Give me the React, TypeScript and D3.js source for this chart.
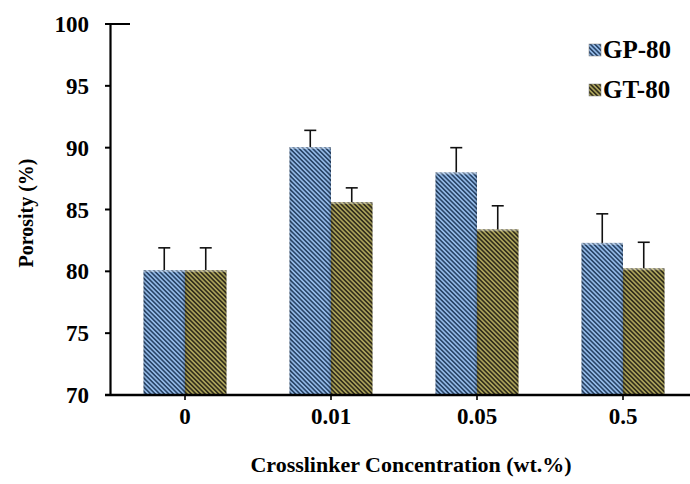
import React from "react";
import * as d3 from "d3";

const categories = ["0", "0.01", "0.05", "0.5"];
const seriesNames = ["GP-80", "GT-80"];
const gpValues = [80.1, 90.05, 88.0, 82.3];
const gtValues = [80.1, 85.6, 83.4, 80.25];
const gpErrors = [1.8, 1.35, 2.0, 2.35];
const gtErrors = [1.8, 1.15, 1.9, 2.1];
const yTicks = [70, 75, 80, 85, 90, 95, 100];

const W = 690;
const H = 484;
const FONT = "'Liberation Serif', 'Times New Roman', serif";

const fills = [
  { id: "hatch-gp", light: "#93b9e6", dark: "#2a4669" },
  { id: "hatch-gt", light: "#aaa25a", dark: "#332e1c" },
];

export default function App() {
  const y = d3.scaleLinear().domain([70, 100]).range([395, 24]);
  const x = d3.scaleBand().domain(categories).range([112, 696]);
  const inner = d3
    .scaleBand()
    .domain(seriesNames)
    .range([0, x.bandwidth()])
    .paddingInner(0)
    .paddingOuter(0.76);

  const series = [
    { name: seriesNames[0], values: gpValues, errors: gpErrors, fill: fills[0] },
    { name: seriesNames[1], values: gtValues, errors: gtErrors, fill: fills[1] },
  ];

  const axisY0 = y(70);

  return (
    <svg width={W} height={H} style={{ display: "block", position: "absolute", left: 0, top: 0 }}>
      <defs>
        {fills.map((f) => (
          <pattern
            key={f.id}
            id={f.id}
            patternUnits="userSpaceOnUse"
            width={3.2}
            height={3.2}
            patternTransform="rotate(-45)"
          >
            <rect width={3.2} height={3.2} fill={f.light} />
            <rect width={1.6} height={3.2} fill={f.dark} />
          </pattern>
        ))}
        <linearGradient id="edge-shade" x1="0" x2="1" y1="0" y2="0">
          <stop offset="0" stopColor="#000" stopOpacity={0.2} />
          <stop offset="0.07" stopColor="#000" stopOpacity={0} />
          <stop offset="0.93" stopColor="#000" stopOpacity={0} />
          <stop offset="1" stopColor="#000" stopOpacity={0.2} />
        </linearGradient>
      </defs>
      <rect width={W} height={H} fill="#fff" />

      {/* bars */}
      {series.map((s) =>
        categories.map((c, i) => {
          const bx = (x(c) as number) + (inner(s.name) as number);
          const bw = inner.bandwidth();
          const top = y(s.values[i]);
          return (
            <g key={s.name + c}>
              <rect x={bx} y={top} width={bw} height={axisY0 - top} fill={`url(#${s.fill.id})`} />
              <rect x={bx} y={top} width={bw} height={axisY0 - top} fill="url(#edge-shade)" />
              <rect x={bx} y={top} width={bw} height={2} fill="#fff" opacity={0.35} />
            </g>
          );
        })
      )}

      {/* error bars (upper only) */}
      {series.map((s) =>
        categories.map((c, i) => {
          const cx = (x(c) as number) + (inner(s.name) as number) + inner.bandwidth() / 2;
          const top = y(s.values[i]);
          const et = y(s.values[i] + s.errors[i]);
          return (
            <g key={"e" + s.name + c} stroke="#111" strokeWidth={1.6}>
              <line x1={cx} x2={cx} y1={top} y2={et} />
              <line x1={cx - 6} x2={cx + 6} y1={et} y2={et} />
            </g>
          );
        })
      )}

      {/* y axis */}
      <line x1={110.5} x2={110.5} y1={y(100)} y2={axisY0 + 1} stroke="#000" strokeWidth={2.2} />
      <line x1={105} x2={130} y1={y(100)} y2={y(100)} stroke="#000" strokeWidth={2} />
      {yTicks.map((t) => (
        <g key={t}>
          <line x1={105} x2={110} y1={y(t)} y2={y(t)} stroke="#000" strokeWidth={2} />
          <text
            x={89}
            y={y(t)}
            dy="0.35em"
            textAnchor="end"
            fontFamily={FONT}
            fontWeight="bold"
            fontSize={23}
            fill="#000"
          >
            {t}
          </text>
        </g>
      ))}

      {/* x axis */}
      <line x1={105} x2={690} y1={axisY0} y2={axisY0} stroke="#000" strokeWidth={2.4} />
      {categories.map((c) => {
        const cx = (x(c) as number) + x.bandwidth() / 2;
        return (
          <g key={c}>
            <line x1={cx} x2={cx} y1={axisY0} y2={axisY0 + 5} stroke="#000" strokeWidth={1.6} />
            <text
              x={cx}
              y={424}
              textAnchor="middle"
              fontFamily={FONT}
              fontWeight="bold"
              fontSize={23}
              fill="#000"
            >
              {c}
            </text>
          </g>
        );
      })}

      {/* axis titles */}
      <text
        x={411}
        y={472}
        textAnchor="middle"
        fontFamily={FONT}
        fontWeight="bold"
        fontSize={22}
        fill="#000"
      >
        Crosslinker Concentration (wt.%)
      </text>
      <text
        transform="translate(33,213) rotate(-90)"
        textAnchor="middle"
        fontFamily={FONT}
        fontWeight="bold"
        fontSize={20}
        fill="#000"
      >
        Porosity (%)
      </text>

      {/* legend */}
      {series.map((s, i) => (
        <g key={"lg" + s.name} transform={`translate(589,${44 + i * 40})`}>
          <rect x={0} y={0} width={12} height={12} fill={`url(#${s.fill.id})`} stroke="#777" strokeWidth={0.5} />
          <text
            x={14}
            y={14}
            fontFamily={FONT}
            fontWeight="bold"
            fontSize={25}
            fill="#000"
          >
            {s.name}
          </text>
        </g>
      ))}
    </svg>
  );
}
